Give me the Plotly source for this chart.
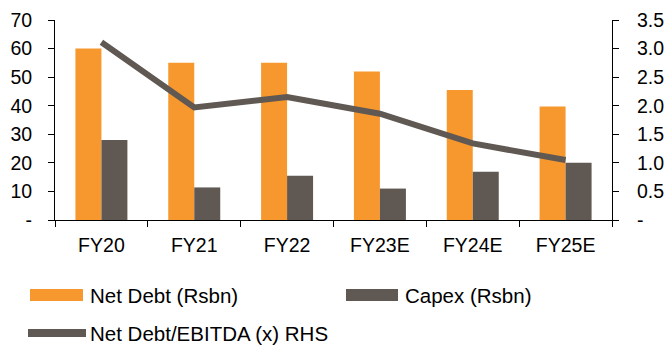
import plotly.graph_objects as go

# Net debt, capex and leverage by fiscal year
years = ["FY20", "FY21", "FY22", "FY23E", "FY24E", "FY25E"]
net_debt = [60.0, 55.0, 55.0, 52.0, 45.5, 39.7]
capex = [28.0, 11.4, 15.5, 11.0, 16.9, 20.0]
nd_ebitda = [3.11, 1.97, 2.15, 1.86, 1.34, 1.05]

left_ticks = [0, 10, 20, 30, 40, 50, 60, 70]
left_labels = ["-", "10", "20", "30", "40", "50", "60", "70"]
right_ticks = [0, 0.5, 1.0, 1.5, 2.0, 2.5, 3.0, 3.5]
right_labels = ["-", "0.5", "1.0", "1.5", "2.0", "2.5", "3.0", "3.5"]

ORANGE = "#F7982F"
GREY = "#605853"
FONT = "Liberation Sans, Arial, sans-serif"
TICK_SIZE = 19.5
LEGEND_SIZE = 20.5

W, H = 666, 345
L, R, T, B = 55, 54, 20, 125
PW, PH = W - L - R, H - T - B


def px(x):
    return (x - L) / PW


def py(y):
    return (T + PH - y) / PH


fig = go.Figure()
fig.add_bar(x=years, y=net_debt, name="Net Debt (Rsbn)", marker=dict(color=ORANGE, line_width=0))
fig.add_bar(x=years, y=capex, name="Capex (Rsbn)", marker=dict(color=GREY, line_width=0))
fig.add_scatter(x=years, y=nd_ebitda, name="Net Debt/EBITDA (x) RHS", yaxis="y2",
                mode="lines", line=dict(color=GREY, width=6))

fig.update_layout(
    width=W, height=H,
    margin=dict(l=L, r=R, t=T, b=B, autoexpand=False),
    paper_bgcolor="white", plot_bgcolor="white",
    font=dict(family=FONT, size=TICK_SIZE, color="#000000"),
    showlegend=False,
    barmode="group", bargap=0.44, bargroupgap=0,
    xaxis=dict(showline=True, linecolor="#000", linewidth=1, ticks="outside",
               ticklen=6, tickcolor="#000", tickson="boundaries", showgrid=False,
               ticklabelstandoff=8, automargin=False),
    yaxis=dict(range=[0, 70], tickvals=left_ticks, ticktext=left_labels,
               showline=True, linecolor="#000", linewidth=1, ticks="outside",
               ticklen=6, tickcolor="#000", showgrid=False, zeroline=False,
               ticklabelstandoff=12, automargin=False),
    yaxis2=dict(range=[0, 3.5], tickvals=right_ticks, ticktext=right_labels,
                overlaying="y", side="right", showline=True, linecolor="#000",
                linewidth=1, ticks="outside", ticklen=6, tickcolor="#000",
                showgrid=False, zeroline=False, ticklabelstandoff=14,
                automargin=False),
)

# Legend drawn beneath the plot
legend_items = [
    ("rect", ORANGE, 30, 83, 295, 88, "Net Debt (Rsbn)"),
    ("rect", GREY, 346, 398, 295, 403, "Capex (Rsbn)"),
    ("line", GREY, 28, 86, 333, 88, "Net Debt/EBITDA (x) RHS"),
]
for kind, color, x0, x1, yc, tx, label in legend_items:
    if kind == "rect":
        fig.add_shape(type="rect", xref="paper", yref="paper",
                      x0=px(x0), x1=px(x1), y0=py(yc - 6), y1=py(yc + 6),
                      fillcolor=color, line_width=0)
    else:
        fig.add_shape(type="line", xref="paper", yref="paper",
                      x0=px(x0), x1=px(x1), y0=py(yc), y1=py(yc),
                      line=dict(color=color, width=8))
    fig.add_annotation(x=px(tx), y=py(yc), xref="paper", yref="paper",
                       text=label, showarrow=False, xanchor="left", yanchor="middle",
                       font=dict(size=LEGEND_SIZE, family=FONT, color="#000"))

fig.write_html("out.html")
